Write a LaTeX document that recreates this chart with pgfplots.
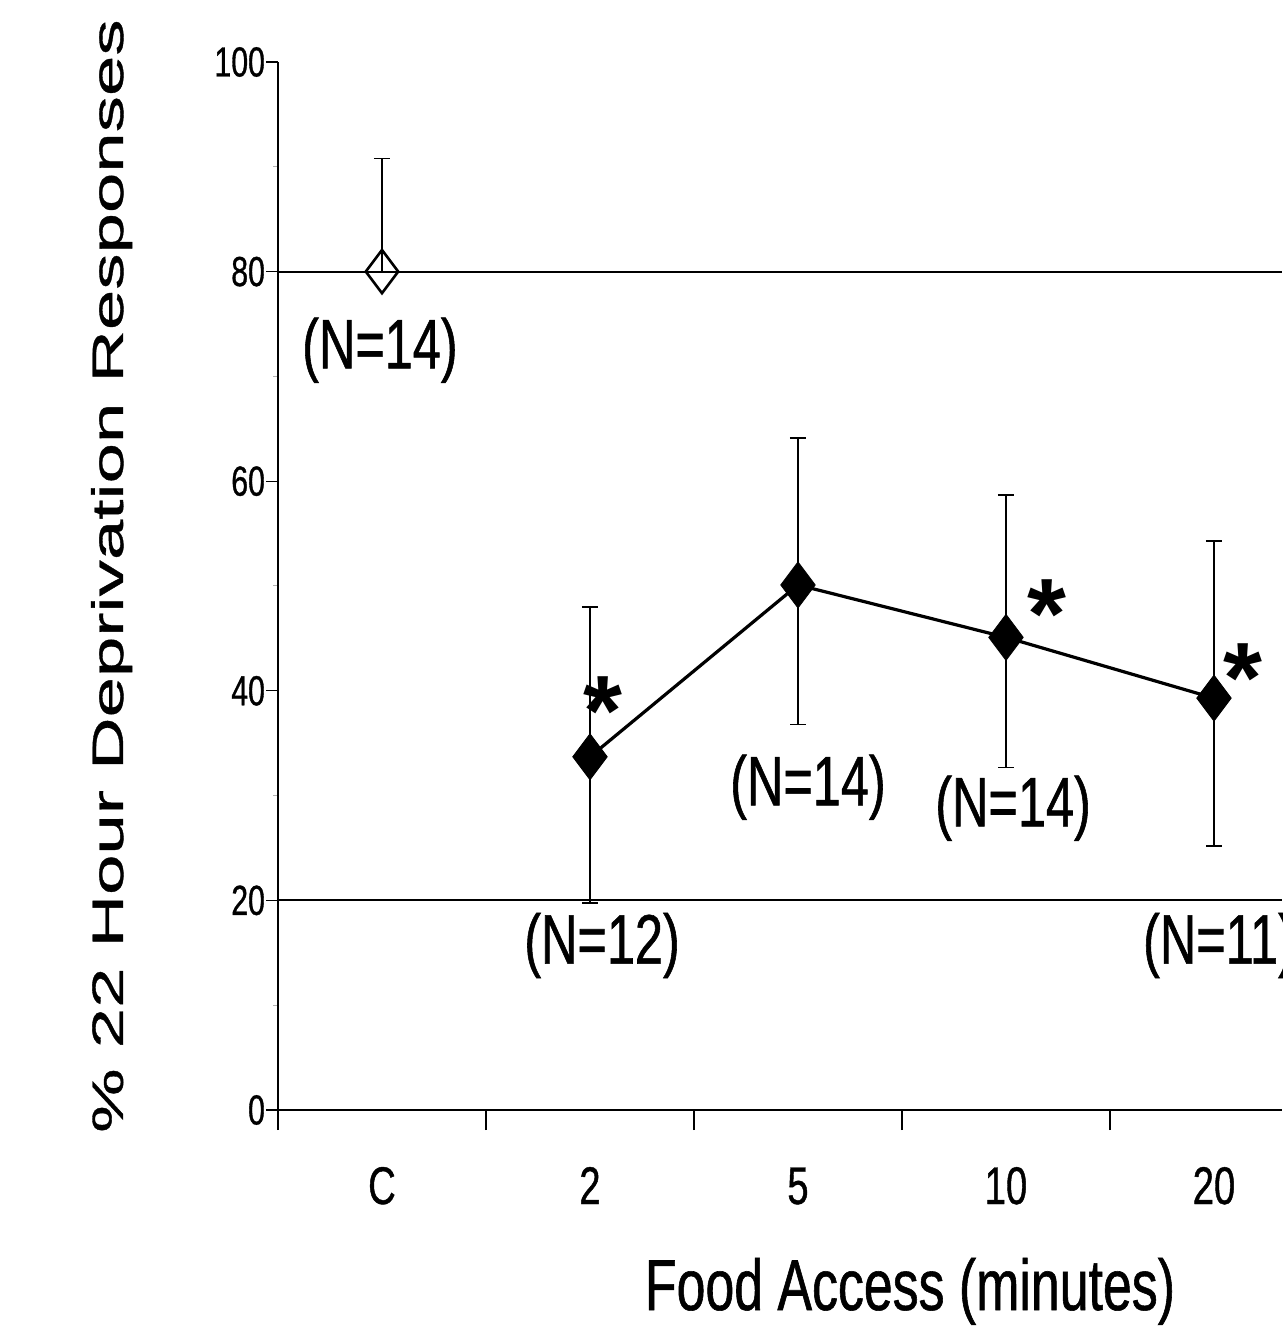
\documentclass[border=0pt]{standalone}
\usepackage{pgfplots}
\pgfplotsset{compat=1.18}
\usepackage{fontspec}
\setmainfont{Liberation Sans}
\newfontfamily\cond[FakeStretch=0.72, FakeBold=0.8]{Liberation Sans}
\newfontfamily\ylabfont[FakeStretch=1.65, FakeBold=0.8]{Liberation Sans}
\begin{document}
\begin{tikzpicture}
\begin{axis}[
  scale only axis, width=502pt, height=524pt,
  xmin=0, xmax=4.827, ymin=0, ymax=100,
  axis x line=bottom, axis y line=left,
  x axis line style={-, black, line width=1.4pt},
  y axis line style={-, black, line width=1pt},
  /pgf/number format/assume math mode=true,
  tick align=outside,
  major tick length=0pt,
  minor tick length=2.5pt,
  ytick={0,20,...,100},
  minor ytick={10,30,...,90},
  minor y tick style={gray!60, line width=0.5pt},
  xtick={0.5,1.5,...,4.5},
  xticklabels={C,2,5,10,20},
  extra x ticks={0,1,2,3,4},
  extra x tick labels={},
  extra x tick style={major tick length=10pt, tick style={black, line width=0.6pt}},
  extra y ticks={0,20,...,100},
  extra y tick labels={},
  extra y tick style={major tick length=6pt, tick style={black, line width=0.6pt}},
  yticklabel style={font=\cond\fontsize{21pt}{22pt}\selectfont, xshift=-3pt},
  xticklabel style={font=\cond\fontsize{26.5pt}{27pt}\selectfont, anchor=base, yshift=-47pt},
  clip=false,
]
\addplot[black, line width=1pt, no marks] coordinates {(0,80) (4.827,80)};
\addplot[black, line width=1pt, no marks] coordinates {(0,20) (4.827,20)};
\addplot[only marks, mark=diamond, mark size=10.8pt, mark options={line width=1.3pt, black},
  error bars/.cd, y dir=plus, y explicit,
  error bar style={line width=0.75pt, black},
  error mark options={rotate=90, mark size=4pt, line width=0.75pt}]
  coordinates {(0.5,80) += (0,10.8)};
\addplot[black, line width=1.6pt, mark=diamond*, mark size=11.5pt, mark options={solid, line width=0.4pt, fill=black},
  error bars/.cd, y dir=both, y explicit,
  error bar style={line width=0.75pt, black},
  error mark options={rotate=90, mark size=4pt, line width=0.75pt}]
  coordinates {
  (1.5,33.7) += (0,14.3) -= (0,13.95)
  (2.5,50.1) += (0,14.0) -= (0,13.3)
  (3.5,45.1) += (0,13.6) -= (0,12.4)
  (4.5,39.3) += (0,15.0) -= (0,14.1)
  };
\node[font=\cond\fontsize{35pt}{36pt}\selectfont] at (axis cs:0.49,72.5) {(N=14)};
\node[font=\cond\fontsize{35pt}{36pt}\selectfont] at (axis cs:1.558,15.7) {(N=12)};
\node[font=\cond\fontsize{35pt}{36pt}\selectfont] at (axis cs:2.548,30.8) {(N=14)};
\node[font=\cond\fontsize{35pt}{36pt}\selectfont] at (axis cs:3.534,28.8) {(N=14)};
\node[font=\cond\fontsize{35pt}{36pt}\selectfont] at (axis cs:4.524,15.7) {(N=11)};
\node[font=\bfseries\fontsize{50pt}{50pt}\selectfont, yshift=-8pt] at (axis cs:1.5625,39.6) {*};
\node[font=\bfseries\fontsize{50pt}{50pt}\selectfont, yshift=-8pt] at (axis cs:3.697,48.85) {*};
\node[font=\bfseries\fontsize{50pt}{50pt}\selectfont, yshift=-8pt] at (axis cs:4.64,42.75) {*};
\end{axis}
\node[rotate=90, anchor=base, font=\ylabfont\fontsize{22pt}{22pt}\selectfont] at (-77.5pt,267pt) {\% 22 Hour Deprivation Responses};
\node[anchor=base, font=\cond\fontsize{36pt}{36pt}\selectfont] at (316pt,-100pt) {Food Access (minutes)};
\pgfresetboundingbox
\path[use as bounding box] (-139pt,-109pt) rectangle (502pt,555pt);
\end{tikzpicture}
\end{document}
